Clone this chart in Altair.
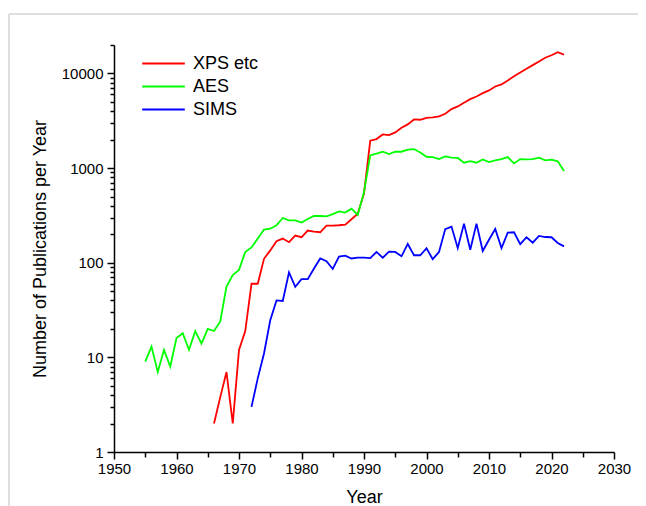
import altair as alt
import pandas as pd

# ---- data ----
series_names = ["XPS etc", "AES", "SIMS"]
series_colors = ["#ff0000", "#00ff00", "#0000ff"]

xps_years = list(range(1966, 2023))
xps_counts = [2, 3.8, 7, 2,
              12, 19, 60, 60, 110,
              135, 169, 180, 165, 194,
              186, 219, 213, 210, 247,
              247, 249, 253, 288, 330,
              540, 1950, 2027, 2270, 2233,
              2384, 2672, 2896, 3266, 3243,
              3404, 3434, 3517, 3752, 4200,
              4486, 4908, 5355, 5716, 6194,
              6618, 7293, 7659, 8440, 9370,
              10250, 11200, 12250, 13400, 14650,
              15600, 16800, 15850]

aes_years = list(range(1955, 2023))
aes_counts = [9, 13, 7, 12, 8,
              16, 18, 12, 19, 14,
              20, 19, 24, 56, 74,
              84, 130, 145, 180, 224,
              229, 249, 297, 281, 281,
              266, 290, 312, 312, 309,
              327, 349, 339, 373, 320,
              560, 1363, 1420, 1490, 1407,
              1490, 1490, 1565, 1590, 1466,
              1318, 1307, 1245, 1330, 1290,
              1280, 1141, 1187, 1141, 1237,
              1159, 1208, 1245, 1307, 1122,
              1245, 1237, 1245, 1290, 1208,
              1228, 1178, 930]

sims_years = list(range(1972, 2023))
sims_counts = [3, 6, 11,
               24.7, 40, 39.5, 79, 55.6,
               67, 67, 87, 111, 104,
               86, 116, 119, 111, 113,
               113, 112, 130, 113, 131,
               130, 117, 158, 120, 120,
               142, 109, 130, 227, 241,
               143, 259, 137, 259, 133,
               175, 227, 143, 208, 210,
               157, 186, 163, 192, 187,
               186, 162, 149]

x_ticks = list(range(1950, 2031, 5))
y_ticks = [m * 10 ** k for k in range(5) for m in range(1, 10) if m * 10 ** k <= 20000]

rows = []
for name, yrs, vals in [("XPS etc", xps_years, xps_counts),
                        ("AES", aes_years, aes_counts),
                        ("SIMS", sims_years, sims_counts)]:
    for yr, v in zip(yrs, vals):
        rows.append({"Year": yr, "Count": v, "Technique": name})
df = pd.DataFrame(rows)

FONT = "Liberation Sans"
pow10_test = "datum.value==1||datum.value==10||datum.value==100||datum.value==1000||datum.value==10000"

lines = alt.Chart(df).mark_line(strokeWidth=1.8).encode(
    x=alt.X("Year:Q",
            scale=alt.Scale(domain=[1950, 2030], nice=False),
            axis=alt.Axis(values=x_ticks, format="d", labelFlush=False,
                          labelExpr="datum.value % 10 === 0 ? datum.label : ''",
                          tickSize={"condition": {"test": "datum.value % 10 === 0", "value": 7}, "value": 5},
                          labelPadding=2, titlePadding=12, title="Year")),
    y=alt.Y("Count:Q",
            scale=alt.Scale(type="log", domain=[1, 20000], nice=False),
            axis=alt.Axis(values=y_ticks, labelFlush=False,
                          labelExpr="(" + pow10_test + ") ? format(datum.value, 'd') : ''",
                          tickSize={"condition": {"test": pow10_test, "value": 7}, "value": 4},
                          labelPadding=4, titleX=-74, titleBaseline="middle",
                          title="Number of Publications per Year")),
    color=alt.Color("Technique:N",
                    scale=alt.Scale(domain=series_names, range=series_colors),
                    sort=series_names,
                    legend=alt.Legend(title=None, orient="none", legendX=27, legendY=7,
                                      symbolType="stroke", symbolSize=1815, symbolStrokeWidth=2,
                                      clipHeight=23, rowPadding=0, padding=0,
                                      labelFont=FONT, labelFontSize=18, labelColor="black",
                                      labelOffset=7, labelLimit=200)),
)

frame_left = alt.Chart(pd.DataFrame({"a": [0]})).mark_rule(color="#d4d4d4", strokeWidth=1.5).encode(
    x=alt.value(-105), y=alt.value(-31), y2=alt.value(480))
frame_top = alt.Chart(pd.DataFrame({"a": [0]})).mark_rule(color="#d4d4d4", strokeWidth=1.5).encode(
    x=alt.value(-105), x2=alt.value(540), y=alt.value(-31))

chart = alt.layer(frame_left, frame_top, lines).properties(
    width=500, height=407,
    autosize=alt.AutoSizeParams(type="none"),
    padding={"left": 106, "top": 37, "right": 24, "bottom": 70},
).configure_axis(
    grid=False,
    domainColor="black", domainWidth=1.5,
    tickColor="black", tickWidth=1.5,
    labelFont=FONT, labelFontSize=15, labelColor="black",
    titleFont=FONT, titleFontSize=18, titleFontWeight="normal", titleColor="black",
).configure_view(stroke=None)

chart.save("out.html", embed_options={"renderer": "svg", "actions": False})
